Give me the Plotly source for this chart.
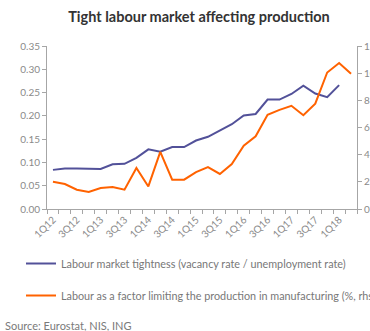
import plotly.graph_objects as go

# Quarterly categories, 1Q12 .. 2Q18
quarters = [f"{q}Q{y}" for y in range(12, 19) for q in range(1, 5)][:26]

# Labour market tightness (vacancy rate / unemployment rate), left axis
tightness = [0.084, 0.087, 0.087, 0.087, 0.086, 0.096, 0.097, 0.110, 0.128,
             0.123, 0.133, 0.133, 0.147, 0.155, 0.169, 0.182, 0.201, 0.204,
             0.235, 0.235, 0.247, 0.265, 0.248, 0.240, 0.266]

# Labour as a factor limiting production in manufacturing (%), right axis
labour_factor = [2.0, 1.84, 1.42, 1.25, 1.55, 1.62, 1.42, 3.02, 1.66, 4.2,
                 2.16, 2.16, 2.72, 3.09, 2.58, 3.31, 4.66, 5.35, 6.94, 7.3,
                 7.6, 6.9, 7.75, 10.05, 10.75, 9.96]

left_ticks = [0.0, 0.05, 0.10, 0.15, 0.20, 0.25, 0.30, 0.35]
right_ticks = [0, 2, 4, 6, 8, 10, 12]
x_labels = [q if i % 2 == 0 else "" for i, q in enumerate(quarters)]

BLUE = "#525199"
ORANGE = "#ff6200"
AXIS = "#a6a6a6"
LABEL = "#8a8a8a"
FONT = "Lato, 'Noto Sans', sans-serif"

W, H = 370, 331
L, R, T, B = 47, 13, 46, 122
PW, PH = W - L - R, H - T - B

fig = go.Figure()
fig.add_trace(go.Scatter(
    x=quarters[:len(tightness)], y=tightness, mode="lines",
    name="Labour market tightness (vacancy rate / unemployment rate)",
    line=dict(color=BLUE, width=2), legendgroup="a", yaxis="y"))
fig.add_trace(go.Scatter(
    x=quarters, y=labour_factor, mode="lines",
    name="Labour as a factor limiting the production in manufacturing (%, rhs)",
    line=dict(color=ORANGE, width=2), legendgroup="b", yaxis="y2"))

fig.update_layout(
    width=W, height=H,
    margin=dict(l=L, r=R, t=T, b=B, autoexpand=False),
    paper_bgcolor="white", plot_bgcolor="white",
    font=dict(family=FONT, color=LABEL, size=10),
    title=dict(text="<b>Tight labour market affecting production</b>",
               x=199 / W, xanchor="center", y=1 - 17 / H, yanchor="middle",
               font=dict(size=14.5, color="#333333", family=FONT)),
    xaxis=dict(type="category", categoryorder="array", categoryarray=quarters,
               range=[-0.5, len(quarters) - 0.5],
               tickmode="array", tickvals=quarters, ticktext=x_labels,
               tickson="boundaries", ticks="outside", ticklen=4,
               tickcolor=AXIS, tickangle=-45, showline=True, linecolor=AXIS,
               linewidth=1, showgrid=False, zeroline=False,
               tickfont=dict(size=10, color=LABEL)),
    yaxis=dict(range=[0, 0.35], tickmode="array", tickvals=left_ticks,
               tickformat=".2f", ticks="outside", ticklen=4, tickcolor=AXIS,
               showline=True, linecolor=AXIS, linewidth=1, showgrid=False,
               zeroline=False, tickfont=dict(size=10, color=LABEL)),
    yaxis2=dict(range=[0, 12], tickmode="array", tickvals=right_ticks,
                overlaying="y", side="right", ticks="outside", ticklen=4,
                tickcolor=AXIS, showline=True, linecolor=AXIS, linewidth=1,
                showgrid=False, zeroline=False,
                tickfont=dict(size=10, color=LABEL)),
    showlegend=True,
    legend=dict(orientation="v", x=-(L - 21) / PW, xanchor="left",
                y=-(249 - (H - B)) / PH, yanchor="top", tracegroupgap=13,
                itemwidth=30,
                font=dict(size=10.8, color="#777777", family=FONT),
                bgcolor="rgba(0,0,0,0)"),
    annotations=[dict(text="Source: Eurostat, NIS, ING", xref="paper",
                      yref="paper", x=-(L - 3) / PW, xanchor="left",
                      y=-(325 - (H - B)) / PH, yanchor="middle",
                      showarrow=False,
                      font=dict(size=11, color="#7a7a7a", family=FONT))],
)

fig.write_html("out.html")
